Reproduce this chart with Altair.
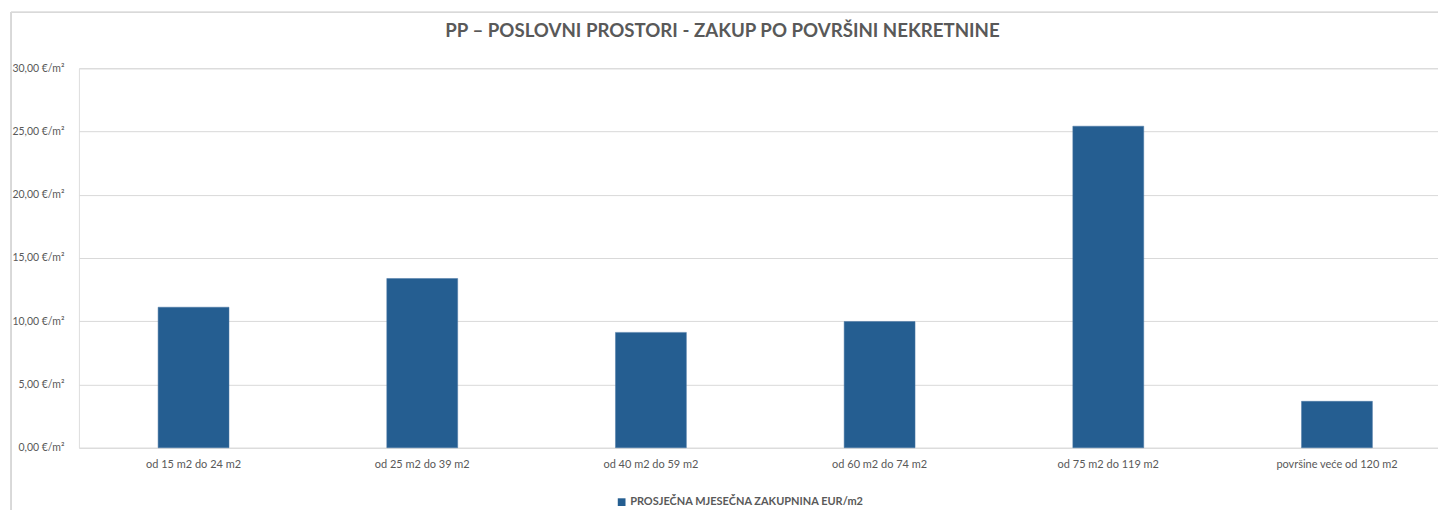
import altair as alt
import pandas as pd

categories = ["od 15 m2 do 24 m2", "od 25 m2 do 39 m2", "od 40 m2 do 59 m2",
              "od 60 m2 do 74 m2", "od 75 m2 do 119 m2", "površine veće od 120 m2"]
values = [11.11, 13.38, 9.12, 9.98, 25.42, 3.67]
series_name = "PROSJEČNA MJESEČNA ZAKUPNINA EUR/m2"
y_ticks = [0, 5, 10, 15, 20, 25, 30]

df = pd.DataFrame({"cat": categories, "val": values, "series": [series_name] * len(categories)})

FONT = "Lato"
GRAY = "#595959"
GRID = "#d9d9d9"
BAR = "#255e91"

bars = alt.Chart(df).mark_bar(color=BAR, stroke="#4a78a3", strokeWidth=0.5).encode(
    x=alt.X("cat:N", sort=categories, title=None,
            scale=alt.Scale(paddingInner=0.69, paddingOuter=0.3166, align=0.547),
            axis=alt.Axis(labelAngle=0, ticks=False, domain=False, grid=False,
                          labelPadding=11, labelFontSize=11, labelColor=GRAY, labelFont=FONT)),
    y=alt.Y("val:Q", title=None,
            scale=alt.Scale(domain=[0, 30], nice=False),
            axis=alt.Axis(values=y_ticks, ticks=False, domain=False, grid=True, gridColor=GRID,
                          gridWidth=1, labelPadding=15, labelFontSize=10.5, labelColor=GRAY,
                          labelFont=FONT,
                          labelExpr="replace(format(datum.value, '.2f'), '.', ',') + ' €/m²'")),
    color=alt.Color("series:N", scale=alt.Scale(range=[BAR]),
                    legend=alt.Legend(title=None, orient="none", legendX=538, legendY=429,
                                      symbolType="square", symbolSize=60, symbolStrokeWidth=0,
                                      labelFont=FONT, labelFontSize=11, labelFontWeight="bold",
                                      labelColor=GRAY, labelOffset=3, labelLimit=500)),
)

border_left = alt.Chart(df).mark_rule(color=GRID, strokeWidth=1).encode(
    x=alt.value(-68), y=alt.value(-56), y2=alt.value(600))
border_top = alt.Chart(df).mark_rule(color=GRID, strokeWidth=1).encode(
    x=alt.value(-68), x2=alt.value(1500), y=alt.value(-56))

chart = alt.layer(border_left, border_top, bars).properties(
    width=1361, height=380,
    title=alt.Title("PP – POSLOVNI PROSTORI - ZAKUP PO POVRŠINI NEKRETNINE",
                    font=FONT, fontSize=18.7, fontWeight="bold", color=GRAY,
                    anchor="middle", dx=-36, offset=-29),
    autosize=alt.AutoSizeParams(type="none"),
    padding={"left": 71, "top": 60, "right": 0, "bottom": 62},
).configure_view(stroke=None).configure(background="white")

chart.save("out.html", embed_options={"renderer": "svg", "actions": False})
